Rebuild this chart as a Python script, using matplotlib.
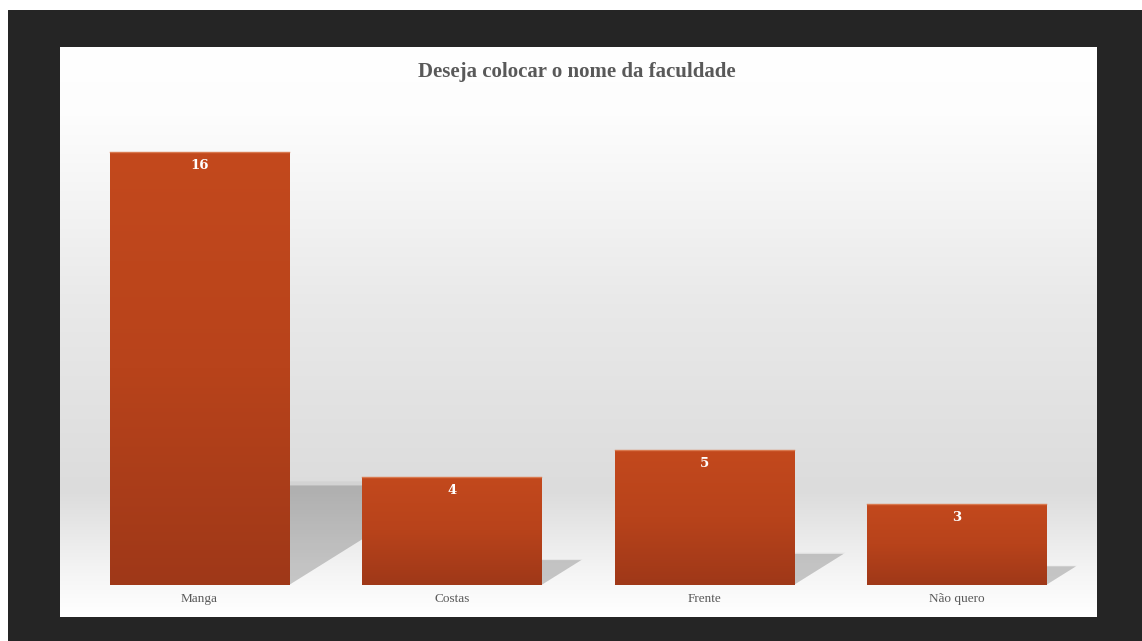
import matplotlib
matplotlib.use('Agg')
import matplotlib.pyplot as plt
import numpy as np
from matplotlib.patches import Polygon, Rectangle
from matplotlib.colors import LinearSegmentedColormap

categories = ['Manga', 'Costas', 'Frente', 'Não quero']
values = [16, 4, 5, 3]
title = 'Deseja colocar o nome da faculdade'

W, H = 1142, 641
fig = plt.figure(figsize=(W / 100, H / 100), dpi=100)
fig.patch.set_facecolor('white')

def px_axes(x0, y0, x1, y1, **kw):
    # pixel box (top-left origin) -> figure axes
    return fig.add_axes([x0 / W, 1 - y1 / H, (x1 - x0) / W, (y1 - y0) / H], **kw)

# dark slide background
bg = px_axes(8, 10, W, H)
bg.set_axis_off()
bg.add_patch(Rectangle((0, 0), 1, 1, transform=bg.transAxes, color='#252525'))

# chart panel with vertical gradient
panel = px_axes(60, 47, 1097, 617)
panel.set_axis_off()
stops = [(0.0, '#ffffff'), (0.12, '#fdfdfd'), (0.45, '#e9e9e9'),
         (0.78, '#dcdcdc'), (0.93, '#f6f6f6'), (1.0, '#ffffff')]
cmap_bg = LinearSegmentedColormap.from_list('panel', stops)
panel.imshow(np.linspace(0, 1, 256).reshape(-1, 1), cmap=cmap_bg, aspect='auto',
             extent=[0, 1, 0, 1], origin='upper')
panel.set_xlim(0, 1)
panel.set_ylim(0, 1)

# plot area
ax = px_axes(73.3, 97.9, 1082.7, 585)
ax.patch.set_alpha(0)
ax.set_xlim(-0.5, len(categories) - 0.5)
ax.set_ylim(0, 18)
for s in ax.spines.values():
    s.set_visible(False)
ax.set_yticks([])

bar_w = 0.71
x = np.arange(len(categories))

# perspective shadows behind bars
px_per_x = (1082.7 - 73.3) / len(categories)
px_per_y = (585 - 97.9) / 18
for xi, v in zip(x, values):
    sh = 0.23 * v
    dx = sh * px_per_y * 1.6 / px_per_x
    l, r = xi - bar_w / 2, xi + bar_w / 2
    poly = Polygon([(l, 0), (r, 0), (r + dx, sh), (l + dx, sh)],
                   closed=True, facecolor='black', edgecolor='none', alpha=0.16, zorder=1)
    ax.add_patch(poly)
    soft = Polygon([(l, 0), (r, 0), (r + dx * 1.04, sh * 1.04), (l + dx * 1.04, sh * 1.04)],
                   closed=True, facecolor='black', edgecolor='none', alpha=0.04, zorder=1)
    ax.add_patch(soft)

# bars with gradient fill
cmap_bar = LinearSegmentedColormap.from_list('bar', ['#c3491d', '#b8431b', '#9f3818'])
bars = ax.bar(x, values, width=bar_w, color='#b5431b', zorder=2, edgecolor='none')
for b in bars:
    bx, by = b.get_x(), b.get_y()
    bw, bh = b.get_width(), b.get_height()
    im = ax.imshow(np.linspace(0, 1, 256).reshape(-1, 1), cmap=cmap_bar, aspect='auto',
                   extent=[bx, bx + bw, by, by + bh], origin='upper', zorder=3)
    im.set_clip_path(b)
    ax.plot([bx, bx + bw], [by + bh, by + bh], color='#d9794f', lw=1, zorder=4)
ax.set_xlim(-0.5, len(categories) - 0.5)
ax.set_ylim(0, 18)

for xi, v in zip(x, values):
    ax.annotate(str(v), (xi, v), xytext=(0, -10), textcoords='offset points',
                ha='center', va='center', color='white', fontsize=9.5, fontweight='bold',
                family='DejaVu Serif', zorder=5)

ax.set_xticks(x)
ax.set_xticklabels(categories, family='Liberation Serif', fontsize=9.5, color='#595959')
ax.tick_params(axis='x', length=0, pad=6)

fig.text(577 / W, 1 - 72 / H, title, ha='center', va='center', fontsize=15,
         fontweight='bold', color='#595959', family='Liberation Serif')

fig.savefig('out.png', dpi=100)
